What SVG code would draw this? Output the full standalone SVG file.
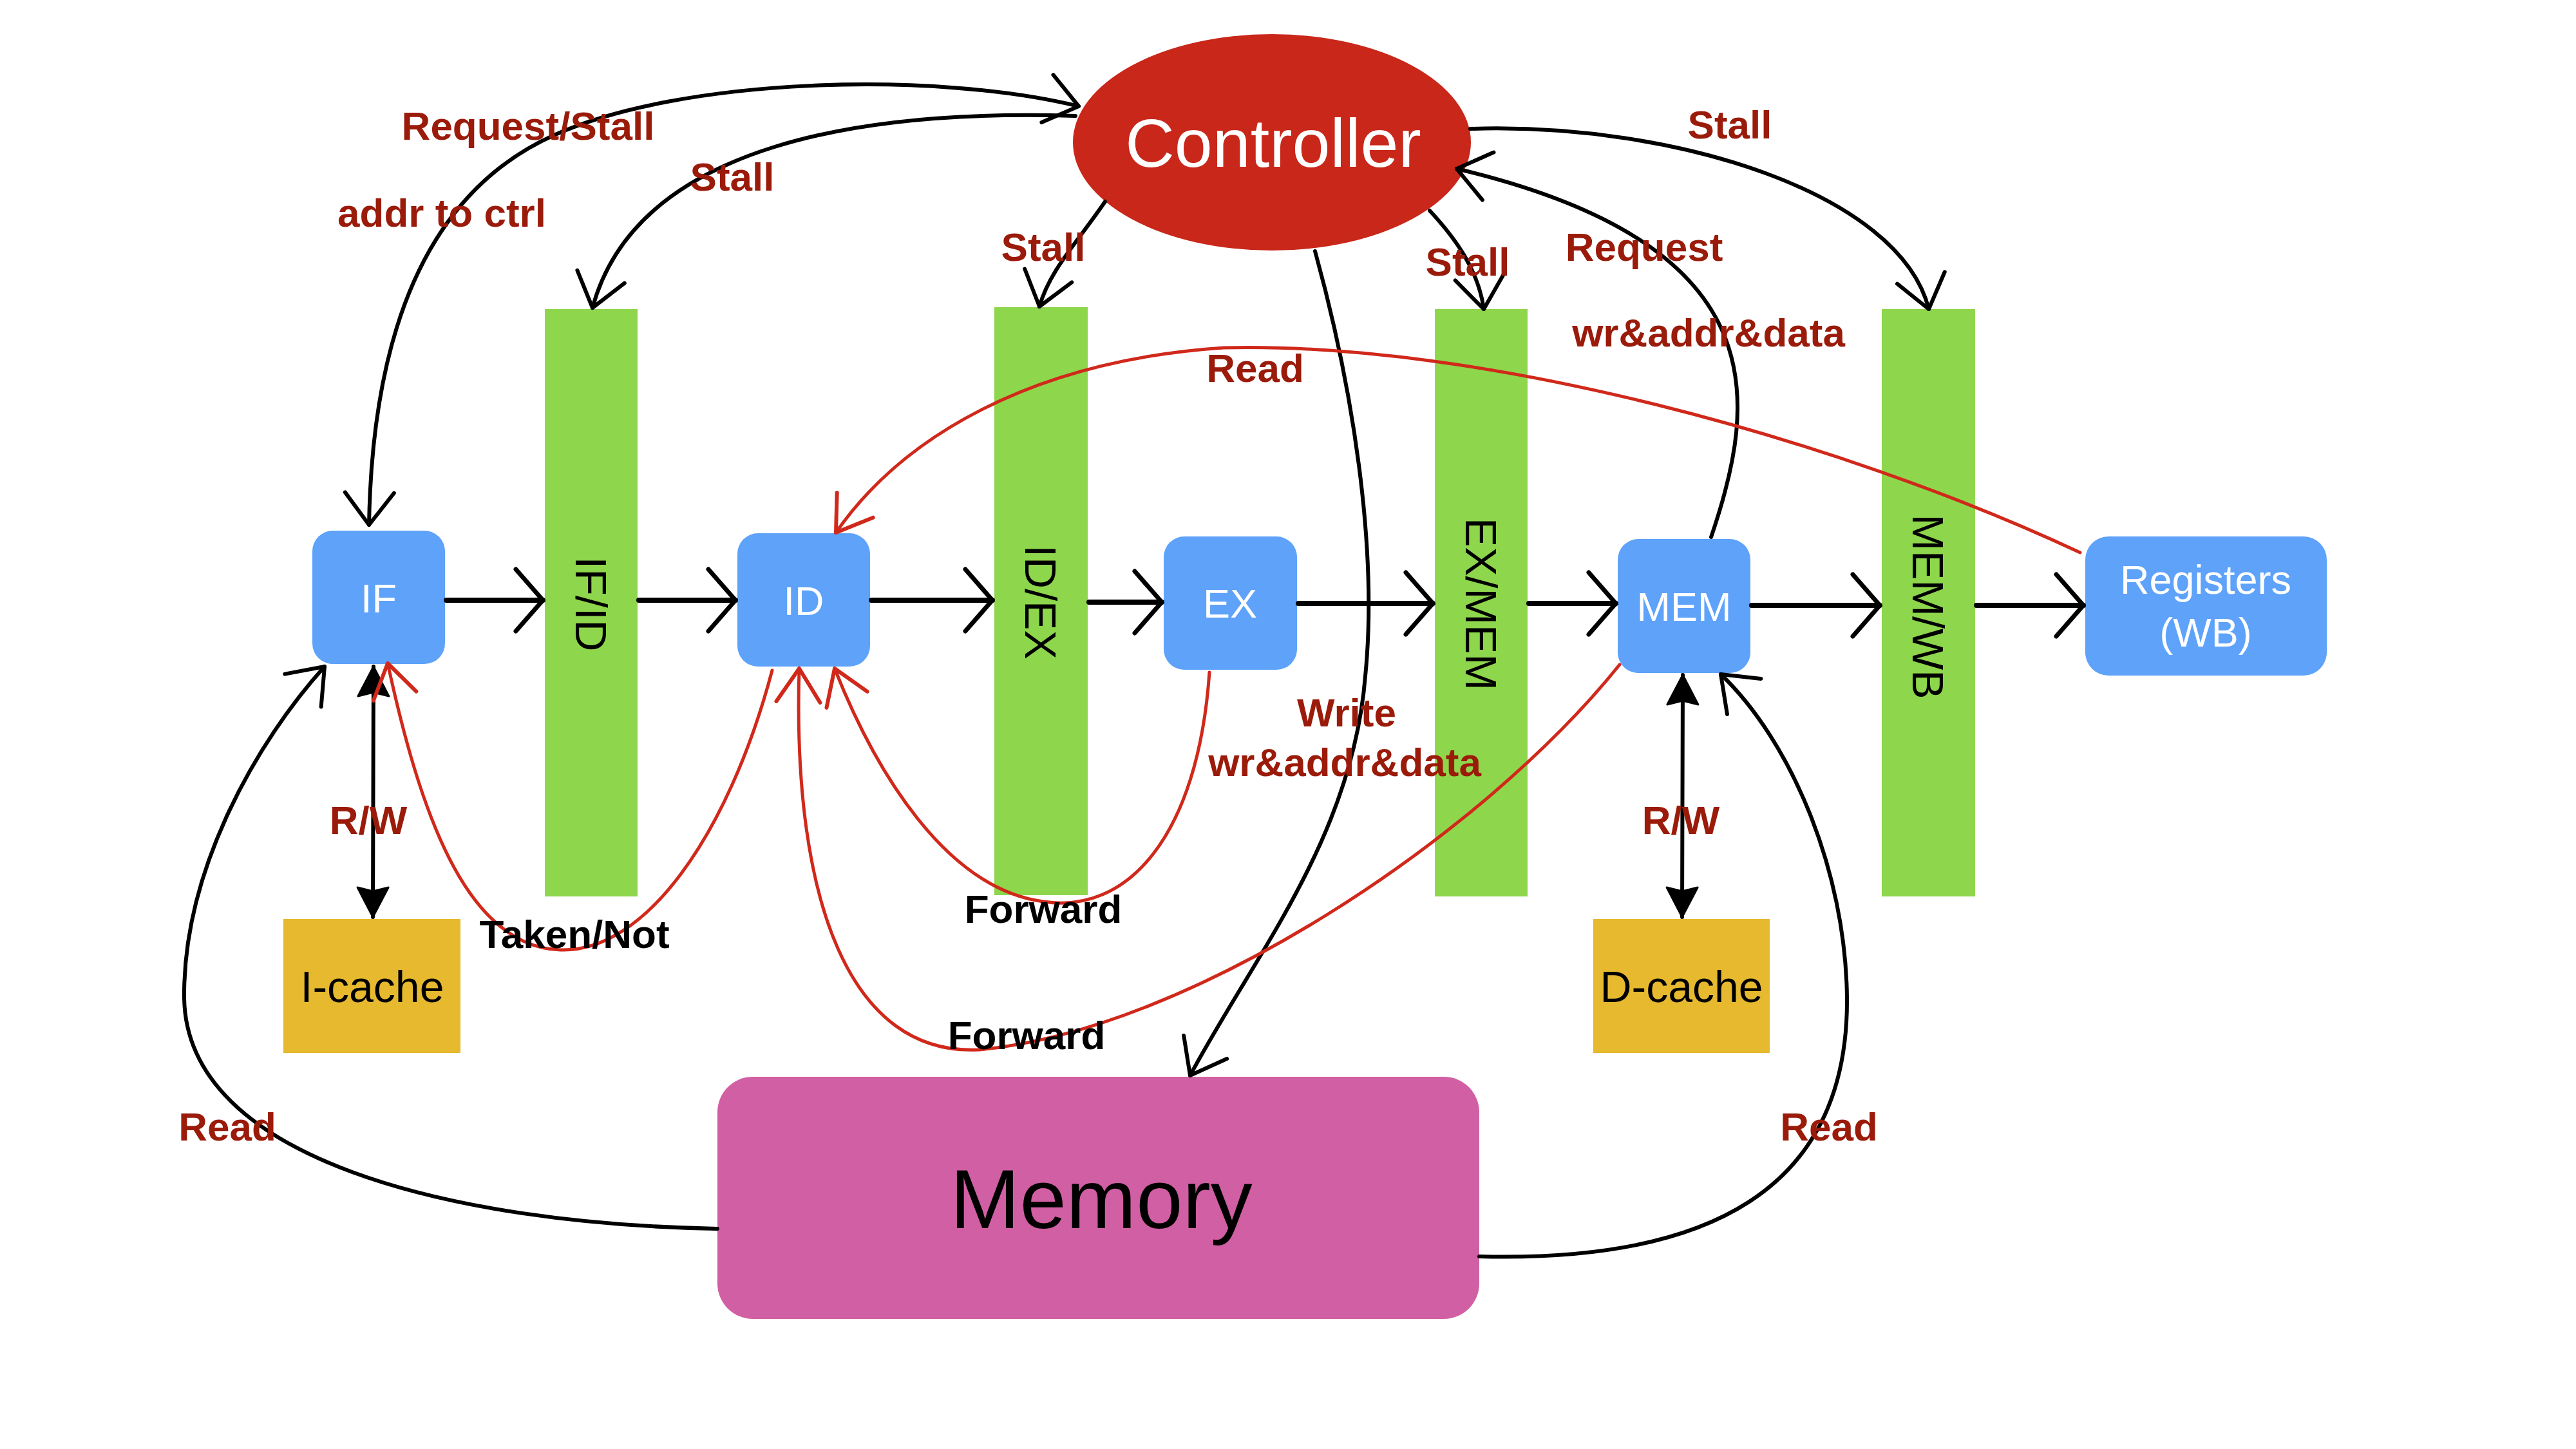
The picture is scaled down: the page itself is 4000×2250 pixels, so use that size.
<svg xmlns="http://www.w3.org/2000/svg" width="4000" height="2250" viewBox="0 0 4000 2250">
<style>
.bar{fill:#8ED64B}
.node{fill:#5EA2FA}
.cache{fill:#E6B92F}
.ntxt{font-family:'Liberation Sans',Helvetica,Arial,sans-serif;font-size:63px;fill:#fff;text-anchor:middle}
.btxt{font-family:'Liberation Sans',Helvetica,Arial,sans-serif;font-size:68px;fill:#000;text-anchor:middle;dominant-baseline:central}
.ctxt{font-family:'Liberation Sans',Helvetica,Arial,sans-serif;font-size:68px;fill:#000;text-anchor:middle}
.lbl{font-family:'Liberation Sans',Helvetica,Arial,sans-serif;font-size:62px;font-weight:bold;fill:#9B1B0B;text-anchor:middle}
.lblk{font-family:'Liberation Sans',Helvetica,Arial,sans-serif;font-size:62px;font-weight:bold;fill:#000;text-anchor:middle}
.k{fill:none;stroke:#000;stroke-width:6;stroke-linecap:round}
.kp{fill:none;stroke:#000;stroke-width:8;stroke-linecap:round}
.r{fill:none;stroke:#D0291B;stroke-width:5;stroke-linecap:round}
</style>
<defs>
<marker id="v" markerUnits="userSpaceOnUse" viewBox="-70 -70 140 140" markerWidth="140" markerHeight="140" refX="0" refY="0" orient="auto-start-reverse">
<path d="M-50,-38 L0,0 L-50,38" fill="none" stroke="#000" stroke-width="6" stroke-linecap="round" stroke-linejoin="round"/>
</marker>
<marker id="vb" markerUnits="userSpaceOnUse" viewBox="-70 -70 140 140" markerWidth="140" markerHeight="140" refX="0" refY="0" orient="auto">
<path d="M-42,-48 L0,0 L-42,48" fill="none" stroke="#000" stroke-width="7" stroke-linecap="round" stroke-linejoin="round"/>
</marker>
<marker id="vr" markerUnits="userSpaceOnUse" viewBox="-70 -70 140 140" markerWidth="140" markerHeight="140" refX="0" refY="0" orient="auto">
<path d="M-52,-34 L0,0 L-52,34" fill="none" stroke="#D0291B" stroke-width="6" stroke-linecap="round" stroke-linejoin="round"/>
</marker>
<marker id="tri" markerUnits="userSpaceOnUse" viewBox="-70 -70 140 140" markerWidth="140" markerHeight="140" refX="0" refY="0" orient="auto-start-reverse">
<path d="M0,0 L-46,-24 L-40,0 L-46,24 Z" fill="#000" stroke="#000" stroke-width="3" stroke-linejoin="round"/>
</marker>
</defs>
<rect width="4000" height="2250" fill="#fff"/>

<g id="IF_ID"><rect class="bar" x="846" y="480" width="144" height="912"/><text class="btxt" transform="translate(918,938) rotate(90)">IF/ID</text></g>
<g id="ID_EX"><rect class="bar" x="1544" y="477" width="145" height="913"/><text class="btxt" transform="translate(1616,935) rotate(90)">ID/EX</text></g>
<g id="EX_MEM"><rect class="bar" x="2228" y="480" width="144" height="912"/><text class="btxt" transform="translate(2300,938) rotate(90)">EX/MEM</text></g>
<g id="MEM_WB"><rect class="bar" x="2922" y="480" width="145" height="912"/><text class="btxt" transform="translate(2994,942) rotate(90)">MEM/WB</text></g>

<g id="Controller"><ellipse cx="1975" cy="221" rx="309" ry="168" fill="#C8271A"/><text x="1977" y="259" font-family="'Liberation Sans',Helvetica,Arial,sans-serif" font-size="106" fill="#fff" text-anchor="middle">Controller</text></g>
<g id="IF"><rect class="node" x="485" y="824" width="206" height="207" rx="32"/><text class="ntxt" x="588" y="951">IF</text></g>
<g id="ID"><rect class="node" x="1145" y="828" width="206" height="207" rx="32"/><text class="ntxt" x="1248" y="955">ID</text></g>
<g id="EX"><rect class="node" x="1807" y="833" width="207" height="207" rx="32"/><text class="ntxt" x="1910" y="959">EX</text></g>
<g id="MEM"><rect class="node" x="2512" y="837" width="206" height="208" rx="32"/><text class="ntxt" x="2615" y="964">MEM</text></g>
<g id="Registers"><rect class="node" x="3238" y="833" width="375" height="216" rx="36"/><text class="ntxt" x="3425" y="922">Registers</text><text class="ntxt" x="3425" y="1004">(WB)</text></g>
<g id="I-cache"><rect class="cache" x="440" y="1427" width="275" height="208"/><text class="ctxt" x="578" y="1556">I-cache</text></g>
<g id="D-cache"><rect class="cache" x="2474" y="1427" width="274" height="208"/><text class="ctxt" x="2611" y="1556">D-cache</text></g>
<g id="Memory"><rect x="1114" y="1672" width="1183" height="376" rx="55" fill="#D15FA3"/><text x="1710" y="1907" font-family="'Liberation Sans',Helvetica,Arial,sans-serif" font-size="130" fill="#000" text-anchor="middle">Memory</text></g>

<g id="connectors">
<path class="kp" d="M693,932 L843,932" marker-end="url(#vb)"/>
<path class="kp" d="M992,932 L1142,932" marker-end="url(#vb)"/>
<path class="kp" d="M1353,932 L1541,932" marker-end="url(#vb)"/>
<path class="kp" d="M1691,935 L1804,935" marker-end="url(#vb)"/>
<path class="kp" d="M2016,937 L2225,937" marker-end="url(#vb)"/>
<path class="kp" d="M2374,937 L2509,937" marker-end="url(#vb)"/>
<path class="kp" d="M2720,940 L2919,940" marker-end="url(#vb)"/>
<path class="kp" d="M3069,940 L3235,940" marker-end="url(#vb)"/>

<path class="k" d="M573,815 C578,520 660,300 860,210 S1450,110 1675,165" marker-start="url(#v)" marker-end="url(#v)"/>
<path class="k" d="M1670,180 C1350,170 990,220 920,478" marker-end="url(#v)"/>
<path class="k" d="M1716,313 C1670,380 1630,420 1614,476" marker-end="url(#v)"/>
<path class="k" d="M2220,327 C2260,370 2296,420 2304,480" marker-end="url(#v)"/>
<path class="k" d="M2283,200 C2600,190 2950,300 2995,480" marker-end="url(#v)"/>
<path class="k" d="M2657,834 C2730,620 2760,380 2262,262" marker-end="url(#v)"/>
<path class="k" d="M2042,390 C2100,600 2140,850 2120,1050 C2100,1300 1950,1480 1848,1670" marker-end="url(#v)"/>
<path class="k" d="M580,1035 L579,1424" marker-start="url(#tri)" marker-end="url(#tri)"/>
<path class="k" d="M2613,1048 L2612,1424" marker-start="url(#tri)" marker-end="url(#tri)"/>
<path class="k" d="M1114,1908 C700,1900 290,1800 286,1550 C284,1350 400,1150 504,1035" marker-end="url(#v)"/>
<path class="k" d="M2297,1951 C2650,1960 2870,1850 2868,1550 C2866,1350 2780,1150 2672,1047" marker-end="url(#v)"/>

<path class="r" d="M3230,858 C2850,680 2300,530 1900,540 C1600,560 1400,680 1298,827" marker-end="url(#vr)"/>
<path class="r" d="M1878,1044 C1860,1300 1750,1420 1620,1400 C1470,1380 1360,1200 1296,1038" marker-end="url(#vr)"/>
<path class="r" d="M2515,1032 C2300,1300 1850,1600 1520,1630 C1320,1640 1230,1400 1241,1038" marker-end="url(#vr)"/>
<path class="r" d="M1199,1041 C1130,1300 1000,1480 870,1475 C720,1470 650,1250 602,1030" marker-end="url(#vr)"/>
</g>

<g id="labels">
<text class="lbl" x="820" y="217">Request/Stall</text>
<text class="lbl" x="686" y="352">addr to ctrl</text>
<text class="lbl" x="1137" y="296">Stall</text>
<text class="lbl" x="1620" y="405">Stall</text>
<text class="lbl" x="2686" y="215">Stall</text>
<text class="lbl" x="2279" y="428">Stall</text>
<text class="lbl" x="2553" y="405">Request</text>
<text class="lbl" x="2653" y="538">wr&amp;addr&amp;data</text>
<text class="lbl" x="1949" y="593">Read</text>
<text class="lbl" x="2091" y="1128">Write</text>
<text class="lbl" x="2088" y="1205">wr&amp;addr&amp;data</text>
<text class="lbl" x="572" y="1295">R/W</text>
<text class="lbl" x="2610" y="1295">R/W</text>
<text class="lblk" x="892" y="1472">Taken/Not</text>
<text class="lblk" x="1620" y="1433">Forward</text>
<text class="lblk" x="1594" y="1629">Forward</text>
<text class="lbl" x="353" y="1771">Read</text>
<text class="lbl" x="2840" y="1771">Read</text>
</g>
</svg>
